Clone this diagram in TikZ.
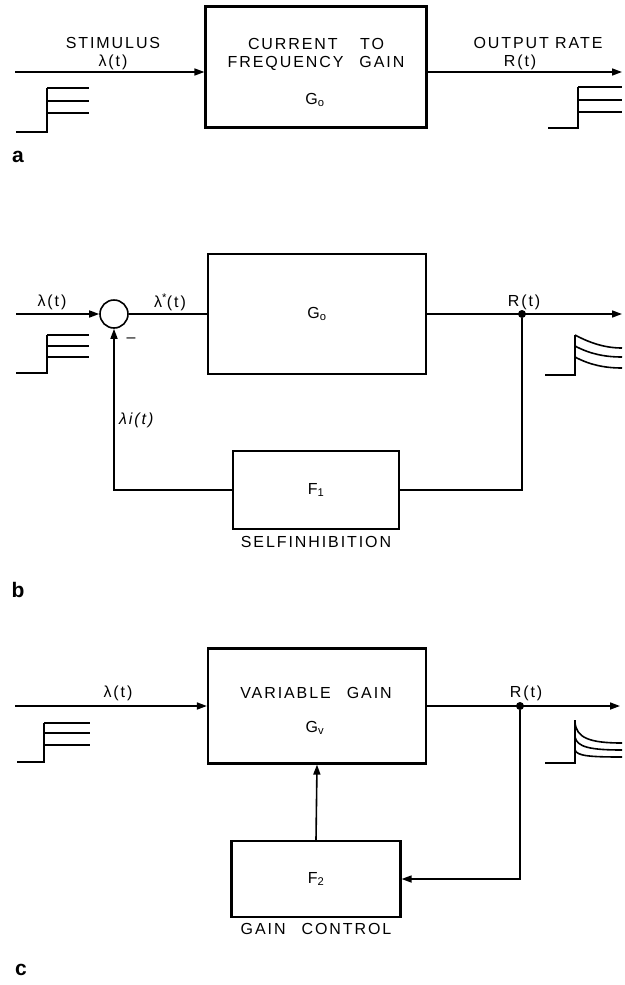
\documentclass[tikz,border=0pt]{standalone}
\usepackage{fontspec}
\setmainfont{Liberation Sans}[LetterSpace=12]
\usetikzlibrary{arrows.meta, positioning}

\begin{document}
\begin{tikzpicture}[
  x=1pt, y=-1pt,
  every node/.style={font=\fontsize{16}{19}\selectfont, inner sep=1pt},
  block/.style={
    rectangle, draw, line width=2.2pt, inner sep=0pt,
    minimum width=218pt, minimum height=118pt,
  },
  fblock/.style={
    rectangle, draw, line width=2.2pt, inner sep=0pt,
    minimum width=167pt, minimum height=77pt,
  },
  sumnode/.style={circle, draw, line width=1.6pt, minimum size=28pt, inner sep=0pt},
  junction/.style={circle, fill, inner sep=0pt, minimum size=8pt},
  signal/.style={line width=1.6pt},
  arrow/.style={signal, -{Triangle[length=10pt, width=7pt]}},
  wave/.style={line width=1.6pt},
  panel/.style={font=\fontsize{21}{24}\selectfont\bfseries},
]
\useasboundingbox (0,0) rectangle (624,985);

% Panel a — open loop
\node[block, minimum width=221pt, minimum height=121pt] (gainA) at (316,67) {};
\node (curA)  at (316,44)  {CURRENT\hspace{1.4em}TO};
\node (freqA) at (316,63)  {FREQUENCY\hspace{1em}GAIN};
\node (goA)   at (315,100) {G\textsubscript{o}};
\node (stimA) at (113,43)  {STIMULUS};
\node (lamA)  at (113,62)  {λ(t)};
\node (outA)  at (538,43)  {OUTPUT RATE};
\node (rA)    at (520,62)  {R(t)};
\coordinate (inA)  at (15,72);
\coordinate (endA) at (622,72);
\draw[arrow] (inA) -- (inA -| gainA.west);
\draw[arrow] (gainA.east |- endA) -- (endA);
\draw[wave] (16,132) -- (47,132) -- (47,88);
\foreach \yy in {88,101,113} \draw[wave] (47,\yy) -- (89,\yy);
\draw[wave] (548,128) -- (578,128) -- (578,87);
\foreach \yy in {87,100,112} \draw[wave] (578,\yy) -- (622,\yy);
\node[panel] (tagA) at (18,157) {a};

% Panel b — selfinhibition loop
\node[block, minimum height=120pt] (gainB) at (317,314) {G\textsubscript{o}};
\node[sumnode] (sumB) at (114,314) {};
\node[junction] (jB) at (522,314) {};
\node[fblock, minimum width=166pt, minimum height=78pt] (selfB) at (316,490) {F\textsubscript{1}};
\coordinate (inB)  at (16,314);
\coordinate (endB) at (622,314);
\draw[arrow]  (inB) -- (sumB.west);
\draw[signal] (sumB.east) -- (gainB.west);
\draw[arrow]  (gainB.east) -- (endB);
\draw[signal] (jB) |- (selfB.east);
\draw[arrow]  (selfB.west) -| (sumB.south);
\node (lamB)  at (52,302)  {λ(t)};
\node (lamsB) at (170,302) {λ\textsuperscript{*}(t)};
\node (rB)    at (524,302) {R(t)};
\node[anchor=west] (laminB) at (118,420) {\textit{λi(t)}};
\node (minusB) at (131,340) {–};
\node[below=5pt of selfB] (selfinhB) {SELFINHIBITION};
\draw[wave] (16,373) -- (47,373) -- (47,335);
\foreach \yy in {335,346,357} \draw[wave] (47,\yy) -- (89,\yy);
\draw[wave] (545,375) -- (575,375) -- (575,335);
\foreach \ya/\yb in {335/348,346/357,357/368}
  \draw[wave] (575,\ya) .. controls (590,\ya+8) and (605,\yb) .. (622,\yb);
\node[panel] (tagB) at (18,590) {b};

% Panel c — gain control loop
\node[block, minimum height=115pt] (gainC) at (317,706) {};
\node (varC) at (316,693) {VARIABLE\hspace{1em}GAIN};
\node (gvC)  at (315,728) {G\textsubscript{v}};
\node[junction] (jC) at (520,706) {};
\node[fblock, minimum width=169pt, minimum height=76pt] (ctrlC) at (316,879) {F\textsubscript{2}};
\coordinate (inC)  at (15,706);
\coordinate (endC) at (620,706);
\draw[arrow] (inC) -- (gainC.west);
\draw[arrow] (gainC.east) -- (endC);
\draw[arrow] (jC) |- (ctrlC.east);
\draw[arrow] (ctrlC.north) -- (gainC.south);
\node (lamC) at (118,693) {λ(t)};
\node (rC)   at (526,693) {R(t)};
\node[below=4pt of ctrlC] (ctrlnameC) {GAIN\hspace{1em}CONTROL};
\draw[wave] (17,762) -- (44,762) -- (44,723);
\foreach \yy in {723,733,745} \draw[wave] (44,\yy) -- (90,\yy);
\draw[wave] (545,763) -- (575,763) -- (575,720);
\draw[wave] (575,722) .. controls (576,738) and (590,743) .. (622,743);
\draw[wave] (575,737) .. controls (577,747) and (590,750) .. (622,750);
\draw[wave] (575,750) .. controls (577,756) and (590,757) .. (622,757);
\node[panel] (tagC) at (21,970) {c};

\end{tikzpicture}
\end{document}
